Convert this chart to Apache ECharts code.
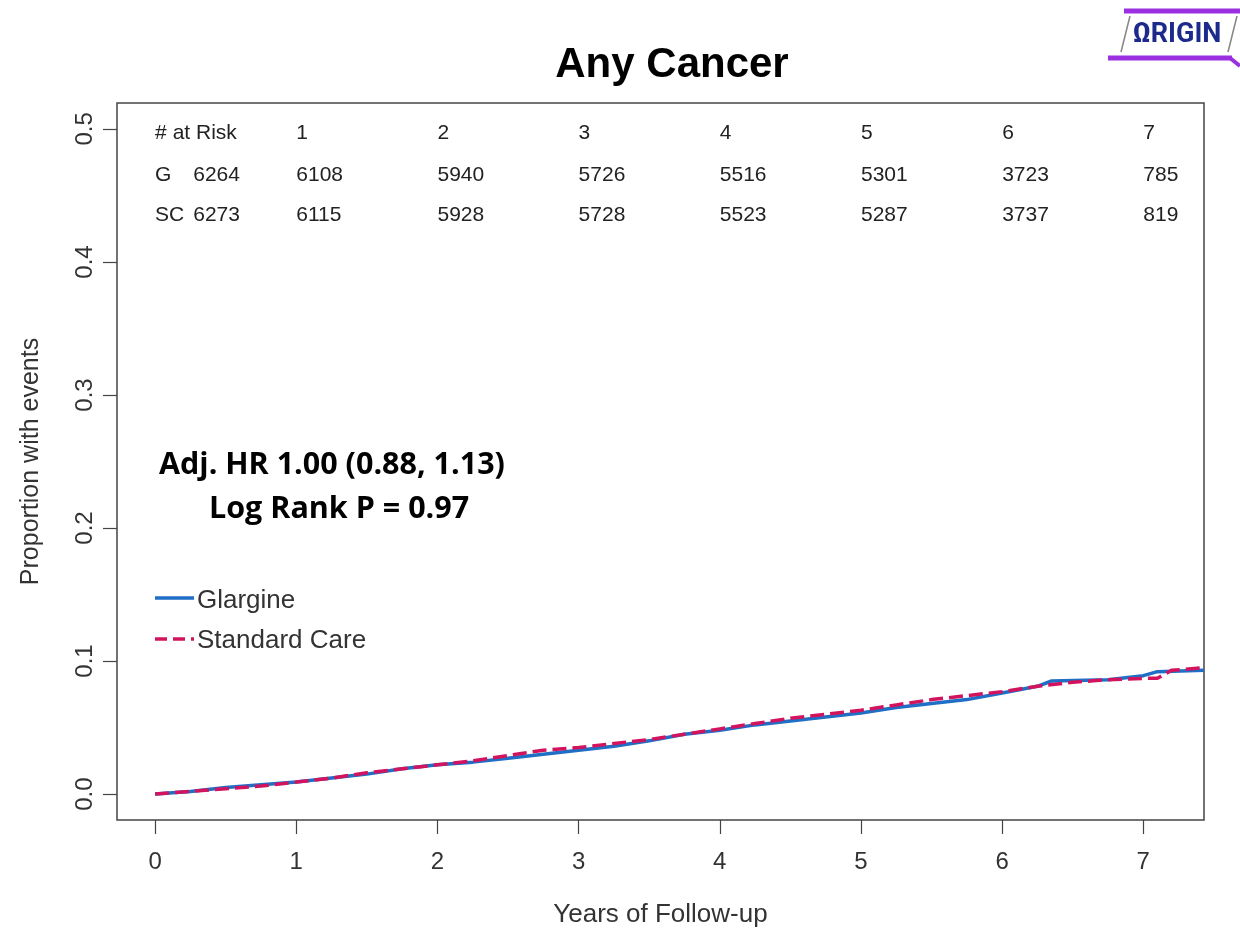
<!DOCTYPE html>
<html>
<head>
<meta charset="utf-8">
<script src="https://cdn.jsdelivr.net/npm/echarts@6/dist/echarts.min.js"></script>
<style>
html,body{margin:0;padding:0;background:#fff;}
#chart{width:1240px;height:933px;}
</style>
</head>
<body>
<div id="chart"></div>
<script>
// ---- data ----
const titleText = 'Any Cancer';
const xTicks = [0, 1, 2, 3, 4, 5, 6, 7];
const yTicks = [0, 0.1, 0.2, 0.3, 0.4, 0.5];

const glargineYears = [0, 0.25, 0.5, 0.75, 1, 1.25, 1.5, 1.75, 2, 2.25, 2.5, 2.75, 3, 3.25, 3.5, 3.75, 4, 4.25, 4.5, 4.75, 5, 5.25, 5.5, 5.75, 6, 6.25, 6.35, 6.75, 7, 7.1, 7.43];
const glargineValues = [0, 0.002, 0.005, 0.007, 0.009, 0.012, 0.015, 0.019, 0.022, 0.024, 0.027, 0.030, 0.033, 0.036, 0.040, 0.045, 0.048, 0.052, 0.055, 0.058, 0.061, 0.065, 0.068, 0.071, 0.076, 0.081, 0.085, 0.086, 0.089, 0.092, 0.093];

const scYears = [0, 0.25, 0.5, 0.75, 1, 1.25, 1.5, 1.75, 2, 2.25, 2.5, 2.75, 3, 3.25, 3.5, 3.75, 4, 4.25, 4.5, 4.75, 5, 5.25, 5.5, 5.75, 6, 6.25, 6.5, 6.75, 7, 7.1, 7.2, 7.43];
const scValues = [0, 0.002, 0.004, 0.006, 0.009, 0.012, 0.016, 0.019, 0.022, 0.025, 0.029, 0.033, 0.035, 0.038, 0.041, 0.045, 0.049, 0.053, 0.057, 0.060, 0.063, 0.067, 0.071, 0.074, 0.077, 0.081, 0.084, 0.086, 0.087, 0.087, 0.093, 0.095];

const riskHeaderLabel = '# at Risk';
const riskYears = [1, 2, 3, 4, 5, 6, 7];
const riskGroups = ['G', 'SC'];
const riskBaseline = [6264, 6273];
const riskG = [6108, 5940, 5726, 5516, 5301, 3723, 785];
const riskSC = [6115, 5928, 5728, 5523, 5287, 3737, 819];

const seriesNames = ['Glargine', 'Standard Care'];
const annotationLines = ['Adj. HR 1.00 (0.88, 1.13)', 'Log Rank P = 0.97'];
const xName = 'Years of Follow-up';
const yName = 'Proportion with events';

// ---- chart ----
const BLUE = '#1f6fc6';
const RED = '#d2145f';
const FONT = 'Liberation Sans, Arial, sans-serif';

const chart = echarts.init(document.getElementById('chart'), null, {renderer: 'canvas'});

const pair = (xs, ys) => xs.map((x, i) => [x, ys[i]]);

chart.setOption({
  backgroundColor: '#fff',
  animation: false,
  title: {
    text: titleText, left: 667, top: 39, textAlign: 'center',
    textStyle: {fontFamily: FONT, fontWeight: 'bold', fontSize: 42, color: '#000'}
  },
  grid: {left: 117, right: 36, top: 103, bottom: 111, show: true, borderColor: '#444', borderWidth: 1.5, backgroundColor: 'transparent'},
  xAxis: {
    type: 'value', min: -0.27, max: 7.43,
    axisLine: {show: false, onZero: false},
    splitLine: {show: false},
    axisTick: {show: true, inside: false, length: 14, customValues: xTicks, lineStyle: {color: '#444', width: 1.2}},
    axisLabel: {customValues: xTicks, margin: 30, fontFamily: FONT, fontSize: 24, color: '#333'},
    name: xName, nameLocation: 'middle', nameGap: 82,
    nameTextStyle: {fontFamily: FONT, fontSize: 26, color: '#333'}
  },
  yAxis: {
    type: 'value', min: -0.0195, max: 0.5195,
    axisLine: {show: false, onZero: false},
    splitLine: {show: false},
    axisTick: {show: true, inside: false, length: 14, customValues: yTicks, lineStyle: {color: '#444', width: 1.2}},
    axisLabel: {customValues: yTicks, rotate: 90, margin: 20, fontFamily: FONT, fontSize: 24, color: '#333',
      formatter: v => v.toFixed(1)},
    name: yName, nameLocation: 'middle', nameGap: 73, nameRotate: 90,
    nameTextStyle: {fontFamily: FONT, fontSize: 25, color: '#333'}
  },
  series: [
    {name: seriesNames[0], type: 'line', showSymbol: false, symbol: 'none',
     data: pair(glargineYears, glargineValues), lineStyle: {color: BLUE, width: 3.5}, itemStyle: {color: BLUE}, z: 3},
    {name: seriesNames[1], type: 'line', showSymbol: false, symbol: 'none',
     data: pair(scYears, scValues), lineStyle: {color: RED, width: 3.5, type: [14, 6]}, itemStyle: {color: RED}, z: 4}
  ]
});

// ---- text overlays placed via the axes ----
const px = (x, y) => chart.convertToPixel({gridIndex: 0}, [x, y]);
const tableStyle = {fontFamily: FONT, fontSize: 21, fill: '#222'};
const graphics = [];
const rowYs = [0.4965, 0.4655, 0.4355];
const txt = (p, s) => ({type: 'text', x: p[0], y: p[1], style: Object.assign({text: s, verticalAlign: 'middle'}, tableStyle)});
graphics.push(txt(px(0, rowYs[0]), riskHeaderLabel));
riskYears.forEach((yr, i) => {
  graphics.push(txt(px(yr, rowYs[0]), String(yr)));
  graphics.push(txt(px(yr, rowYs[1]), String(riskG[i])));
  graphics.push(txt(px(yr, rowYs[2]), String(riskSC[i])));
});
riskGroups.forEach((g, i) => {
  graphics.push(txt(px(0, rowYs[i + 1]), g));
  graphics.push(txt(px(0.27, rowYs[i + 1]), String(riskBaseline[i])));
});

// legend (drawn by hand to match the base-graphics style)
const legendStyle = {fontFamily: FONT, fontSize: 26, fill: '#333', verticalAlign: 'middle'};
graphics.push({type: 'line', shape: {x1: 155, y1: 598, x2: 194, y2: 598}, style: {stroke: BLUE, lineWidth: 3.5}});
graphics.push({type: 'text', x: 197, y: 601, style: Object.assign({text: seriesNames[0]}, legendStyle)});
graphics.push({type: 'line', shape: {x1: 155, y1: 639, x2: 194, y2: 639}, style: {stroke: RED, lineWidth: 3.5, lineDash: [12, 6]}});
graphics.push({type: 'text', x: 197, y: 641, style: Object.assign({text: seriesNames[1]}, legendStyle)});

// annotations
const annStyle = {fontFamily: 'Open Sans, Lato, sans-serif', fontWeight: 'bold', fontSize: 30.5, fill: '#000', verticalAlign: 'middle'};
graphics.push({type: 'text', x: 159, y: 465, style: Object.assign({text: annotationLines[0]}, annStyle)});
graphics.push({type: 'text', x: 209, y: 509, style: Object.assign({text: annotationLines[1]}, annStyle)});

// ORIGIN logo
const PURPLE = '#9b30e0';
graphics.push({type: 'line', shape: {x1: 1124, y1: 11, x2: 1240, y2: 11}, style: {stroke: PURPLE, lineWidth: 5}});
graphics.push({type: 'line', shape: {x1: 1108, y1: 58, x2: 1232, y2: 58}, style: {stroke: PURPLE, lineWidth: 5}});
graphics.push({type: 'line', shape: {x1: 1230, y1: 58, x2: 1240, y2: 66}, style: {stroke: PURPLE, lineWidth: 4}});
graphics.push({type: 'line', shape: {x1: 1130, y1: 16, x2: 1121, y2: 52}, style: {stroke: '#888', lineWidth: 1.5}});
graphics.push({type: 'line', shape: {x1: 1237, y1: 16, x2: 1228, y2: 52}, style: {stroke: '#888', lineWidth: 1.5}});
graphics.push({type: 'text', x: 1177, y: 35, style: {text: 'ΩRIGIN', textAlign: 'center', verticalAlign: 'middle', fontFamily: 'Roboto, Liberation Sans, sans-serif', fontWeight: 'bold', fontSize: 27, fill: '#1c2a8c'}});

chart.setOption({graphic: graphics});
</script>
</body>
</html>
